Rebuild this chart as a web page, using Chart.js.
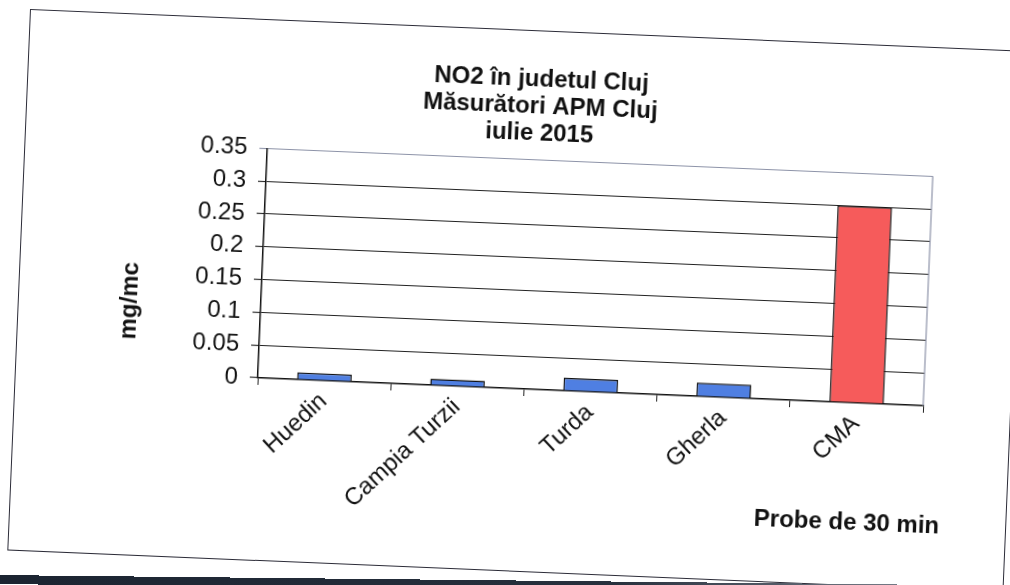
<!DOCTYPE html>
<html>
<head>
<meta charset="utf-8">
<script src="https://cdn.jsdelivr.net/npm/chart.js@4.4.1/dist/chart.umd.min.js"></script>
<style>
    html, body { margin: 0; padding: 0; background: #fff; overflow: hidden; width: 1010px; height: 585px; }
    /* scanned sheet: the whole chart box is slightly tilted */
    #box {
        position: absolute; left: 30px; top: 9px;
        width: 997px; height: 542px;
        border: 1.5px solid #2c2c38; box-sizing: border-box;
        transform-origin: 0 0; transform: rotate(2.4deg);
        background: #fff;
    }
    #no2Chart { position: absolute; left: -1.5px; top: -1.5px; }
    #edge {
        position: absolute; left: -10px; top: 575px; width: 1040px; height: 9px;
        background: linear-gradient(to right, #1b2431 0%, #27303d 60%, #8a8f9a 95%);
        transform-origin: 0 0; transform: rotate(0.6deg);
    }
</style>
</head>
<body>
<div id="box"><canvas id="no2Chart" width="997" height="542"></canvas></div>
<div id="edge"></div>
<script>
// Data
const categories = ['Huedin', 'Campia Turzii', 'Turda', 'Gherla', 'CMA'];
const no2Values = [0.011, 0.010, 0.020, 0.021, 0.300];
const yTickLabels = ['0', '0.05', '0.1', '0.15', '0.2', '0.25', '0.3', '0.35'];
const titleLines = ['NO2 în judetul Cluj', 'Măsurători APM Cluj', 'iulie 2015'];

const blueBar = '#4f7fe2';
const redBar = '#f65b5b';

Chart.defaults.font.family = '"Liberation Sans", Arial, sans-serif';
Chart.defaults.color = '#111';

// axis names + gray right border of the plot area, drawn like Excel
const excelFrame = {
    id: 'excelFrame',
    afterDraw(chart) {
        const ctx = chart.ctx;
        const a = chart.chartArea;
        ctx.save();
        ctx.strokeStyle = '#8d93a8';
        ctx.lineWidth = 1.2;
        ctx.beginPath();
        ctx.moveTo(a.right, a.top);
        ctx.lineTo(a.right, a.bottom);
        ctx.stroke();

        ctx.fillStyle = '#111';
        ctx.font = 'bold 24px "Liberation Sans", Arial, sans-serif';
        ctx.textAlign = 'right';
        ctx.textBaseline = 'middle';
        ctx.fillText('Probe de 30 min', a.right + 21, a.bottom + 120);

        ctx.translate(a.left - 131, a.top + 158);
        ctx.rotate(-Math.PI / 2);
        ctx.textAlign = 'center';
        ctx.fillText('mg/mc', 0, 0);
        ctx.restore();
    }
};

const chart = new Chart(document.getElementById('no2Chart').getContext('2d'), {
    type: 'bar',
    data: {
        labels: categories,
        datasets: [{
            data: no2Values,
            backgroundColor: no2Values.map((v, i) => i === categories.length - 1 ? redBar : blueBar),
            borderColor: '#111',
            borderWidth: 1.5,
            barPercentage: 0.41,
            categoryPercentage: 1
        }]
    },
    options: {
        responsive: false,
        animation: false,
        layout: { padding: { left: 119, right: 88, top: 0, bottom: 0 } },
        plugins: {
            legend: { display: false },
            tooltip: { enabled: false },
            title: {
                display: true,
                text: titleLines,
                font: { size: 24, weight: 'bold', lineHeight: 1.13 },
                color: '#111',
                padding: { top: 36, bottom: 12 }
            }
        },
        scales: {
            x: {
                offset: true,
                grid: {
                    offset: true,
                    drawOnChartArea: false,
                    drawTicks: true,
                    tickLength: 7,
                    color: '#222'
                },
                border: { color: '#111', width: 1.5 },
                ticks: {
                    font: { size: 24 },
                    color: '#111',
                    maxRotation: 45,
                    minRotation: 45,
                    padding: 0
                },
                afterFit(scale) { scale.height = 183; }
            },
            y: {
                min: 0,
                max: 0.35,
                grid: {
                    color: ctx => ctx.index === yTickLabels.length - 1 ? '#8d93a8' : '#222',
                    lineWidth: 1.1,
                    tickLength: 8
                },
                border: { color: '#111', width: 1.5 },
                ticks: {
                    stepSize: 0.05,
                    font: { size: 24 },
                    color: '#111',
                    padding: 12,
                    callback: (value, index) => yTickLabels[index]
                },
                afterFit(scale) { scale.width = 124; }
            }
        }
    },
    plugins: [excelFrame]
});
</script>
</body>
</html>
